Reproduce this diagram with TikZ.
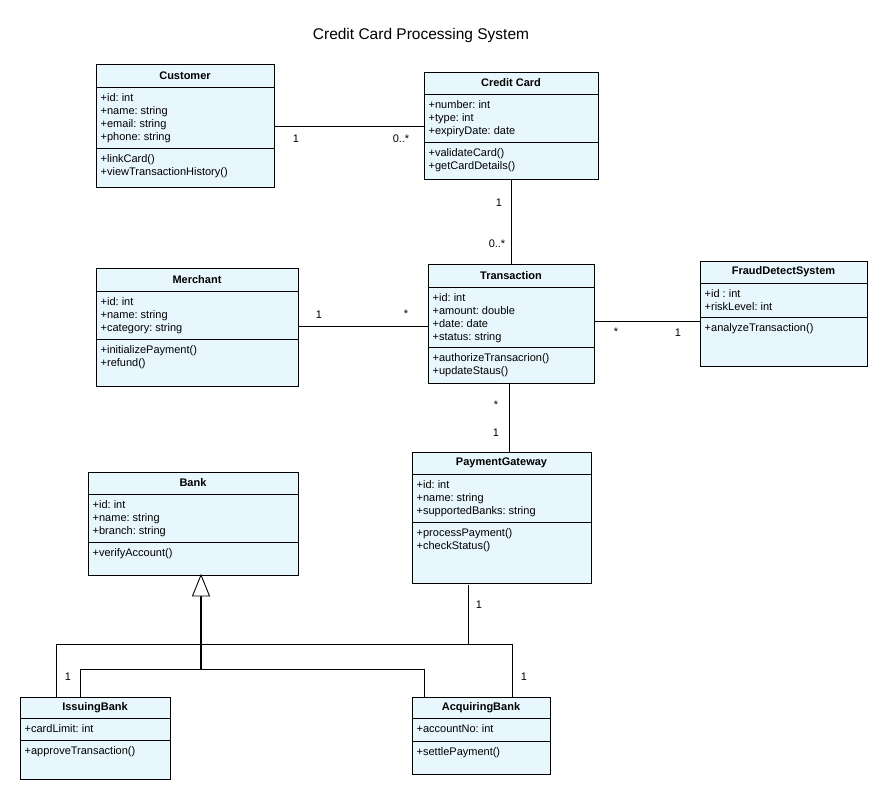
\documentclass[tikz,border=0pt]{standalone}
\usepackage{fontspec}
\setmainfont{Liberation Sans}
\usetikzlibrary{calc}
\frenchspacing
\definecolor{boxfill}{RGB}{232,246,253}
\tikzset{
  classbox/.style={draw=black, fill=boxfill, line width=0.9pt, inner sep=0pt, outer sep=0pt, anchor=north west},
  ctitle/.style={font=\fontsize{11}{13}\selectfont\bfseries, inner sep=0pt},
  ctext/.style={font=\fontsize{11}{13.3}\selectfont, align=left, inner sep=0pt, anchor=north west},
  mult/.style={font=\fontsize{11}{13}\selectfont, inner sep=0pt},
  assoc/.style={draw=black, line width=0.9pt},
  heading/.style={font=\fontsize{15.5}{18}\selectfont, inner sep=0pt},
}
% name, x1, y1, x2, y2, header separator y, attribute separator y, title, attributes
\newcommand{\umlclass}[9]{%
  \node[classbox, minimum width={#4-#2}, minimum height={#5-#3}] (#1) at (#2,#3) {};
  \draw[line width=0.9pt] (#2,#6) -- (#4,#6);
  \draw[line width=0.9pt] (#2,#7) -- (#4,#7);
  \node[ctitle] (#1-title) at ({(#2+#4)/2},{(#3+#6)/2}) {#8};
  \node[ctext] (#1-attrs) at ({#2+4.5},{#6+4.8}) {\rule{0pt}{9pt}#9};
}
% name, x1, attribute separator y, operations
\newcommand{\umlops}[4]{%
  \node[ctext] (#1-ops) at ({#2+4.5},{#3+4.8}) {\rule{0pt}{9pt}#4};
}
\begin{document}
\begin{tikzpicture}[x=1pt, y=-1pt]
\fill[white] (0,0) rectangle (888,800);
\useasboundingbox (0,0) rectangle (888,800);

\node[heading] (title) at (421,35) {Credit Card Processing System};

% classes
\umlclass{cust}{96}{64}{274}{187}{87}{148}{Customer}{+id: int\\+name: string\\+email: string\\+phone: string}
\umlops{cust}{96}{148}{+linkCard()\\+viewTransactionHistory()}

\umlclass{card}{424}{72}{598}{179}{94}{142}{Credit Card}{+number: int\\+type: int\\+expiryDate: date}
\umlops{card}{424}{142}{+validateCard()\\+getCardDetails()}

\umlclass{merch}{96}{268}{298}{386}{291}{339}{Merchant}{+id: int\\+name: string\\+category: string}
\umlops{merch}{96}{339}{+initializePayment()\\+refund()}

\umlclass{trans}{428}{264}{594}{383}{287}{347}{Transaction}{+id: int\\+amount: double\\+date: date\\+status: string}
\umlops{trans}{428}{347}{+authorizeTransacrion()\\+updateStaus()}

\umlclass{fraud}{700}{261}{867}{366}{283}{317}{FraudDetectSystem}{+id : int\\+riskLevel: int}
\umlops{fraud}{700}{317}{+analyzeTransaction()}

\umlclass{pg}{412}{452}{591}{583}{474}{522}{PaymentGateway}{+id: int\\+name: string\\+supportedBanks: string}
\umlops{pg}{412}{522}{+processPayment()\\+checkStatus()}

\umlclass{bank}{88}{472}{298}{575}{494}{542}{Bank}{+id: int\\+name: string\\+branch: string}
\umlops{bank}{88}{542}{+verifyAccount()}

\umlclass{issuing}{20}{697}{170}{779}{718}{740}{IssuingBank}{+cardLimit: int}
\umlops{issuing}{20}{740}{+approveTransaction()}

\umlclass{acq}{412}{697}{550}{774}{718}{741}{AcquiringBank}{+accountNo: int}
\umlops{acq}{412}{741}{+settlePayment()}

% associations
\coordinate (yA) at (0,126);
\draw[assoc] (cust.east |- yA) -- (card.west |- yA);
\node[mult] (m1) at (296,139) {1};
\node[mult] (m2) at (401,139) {0..*};

\coordinate (xB) at (511,0);
\draw[assoc] (card.south -| xB) -- (trans.north -| xB);
\node[mult] (m3) at (499,203) {1};
\node[mult] (m4) at (497,244) {0..*};

\coordinate (yC) at (0,326);
\draw[assoc] (merch.east |- yC) -- (trans.west |- yC);
\node[mult] (m5) at (319,315) {1};
\node[mult] (m6) at (406,314) {*};

\coordinate (yD) at (0,321);
\draw[assoc] (trans.east |- yD) -- (fraud.west |- yD);
\node[mult] (m7) at (616,332) {*};
\node[mult] (m8) at (678,333) {1};

\coordinate (xE) at (509,0);
\draw[assoc] (trans.south -| xE) -- (pg.north -| xE);
\node[mult] (m9) at (496,405) {*};
\node[mult] (m10) at (496,433) {1};

% payment gateway to banks
\coordinate (pj) at (468,644);
\coordinate (al) at (56,644);
\coordinate (ar) at (512,644);
\draw[assoc] ($(pg.south -| pj)+(0,2)$) -- (pj);
\draw[assoc] (issuing.north -| al) -- (al) -- (ar) -- (acq.north -| ar);
\node[mult] (m11) at (479,605) {1};
\node[mult] (m12) at (68,677) {1};
\node[mult] (m13) at (524,677) {1};

% generalization
\coordinate (gx) at (201,0);
\coordinate (gbase) at ($(bank.south -| gx)+(0,21)$);
\coordinate (gj) at (201,669);
\coordinate (gl) at (80,669);
\coordinate (gr) at (424,669);
\draw[assoc] (issuing.north -| gl) -- (gl) -- (gr) -- (acq.north -| gr);
\draw[line width=2.2pt] (gj) -- (gbase);
\draw[assoc, fill=white, line join=miter] (bank.south -| gx) -- ($(gbase)+(-8.5,0)$) -- ($(gbase)+(8.5,0)$) -- cycle;
\end{tikzpicture}
\end{document}
